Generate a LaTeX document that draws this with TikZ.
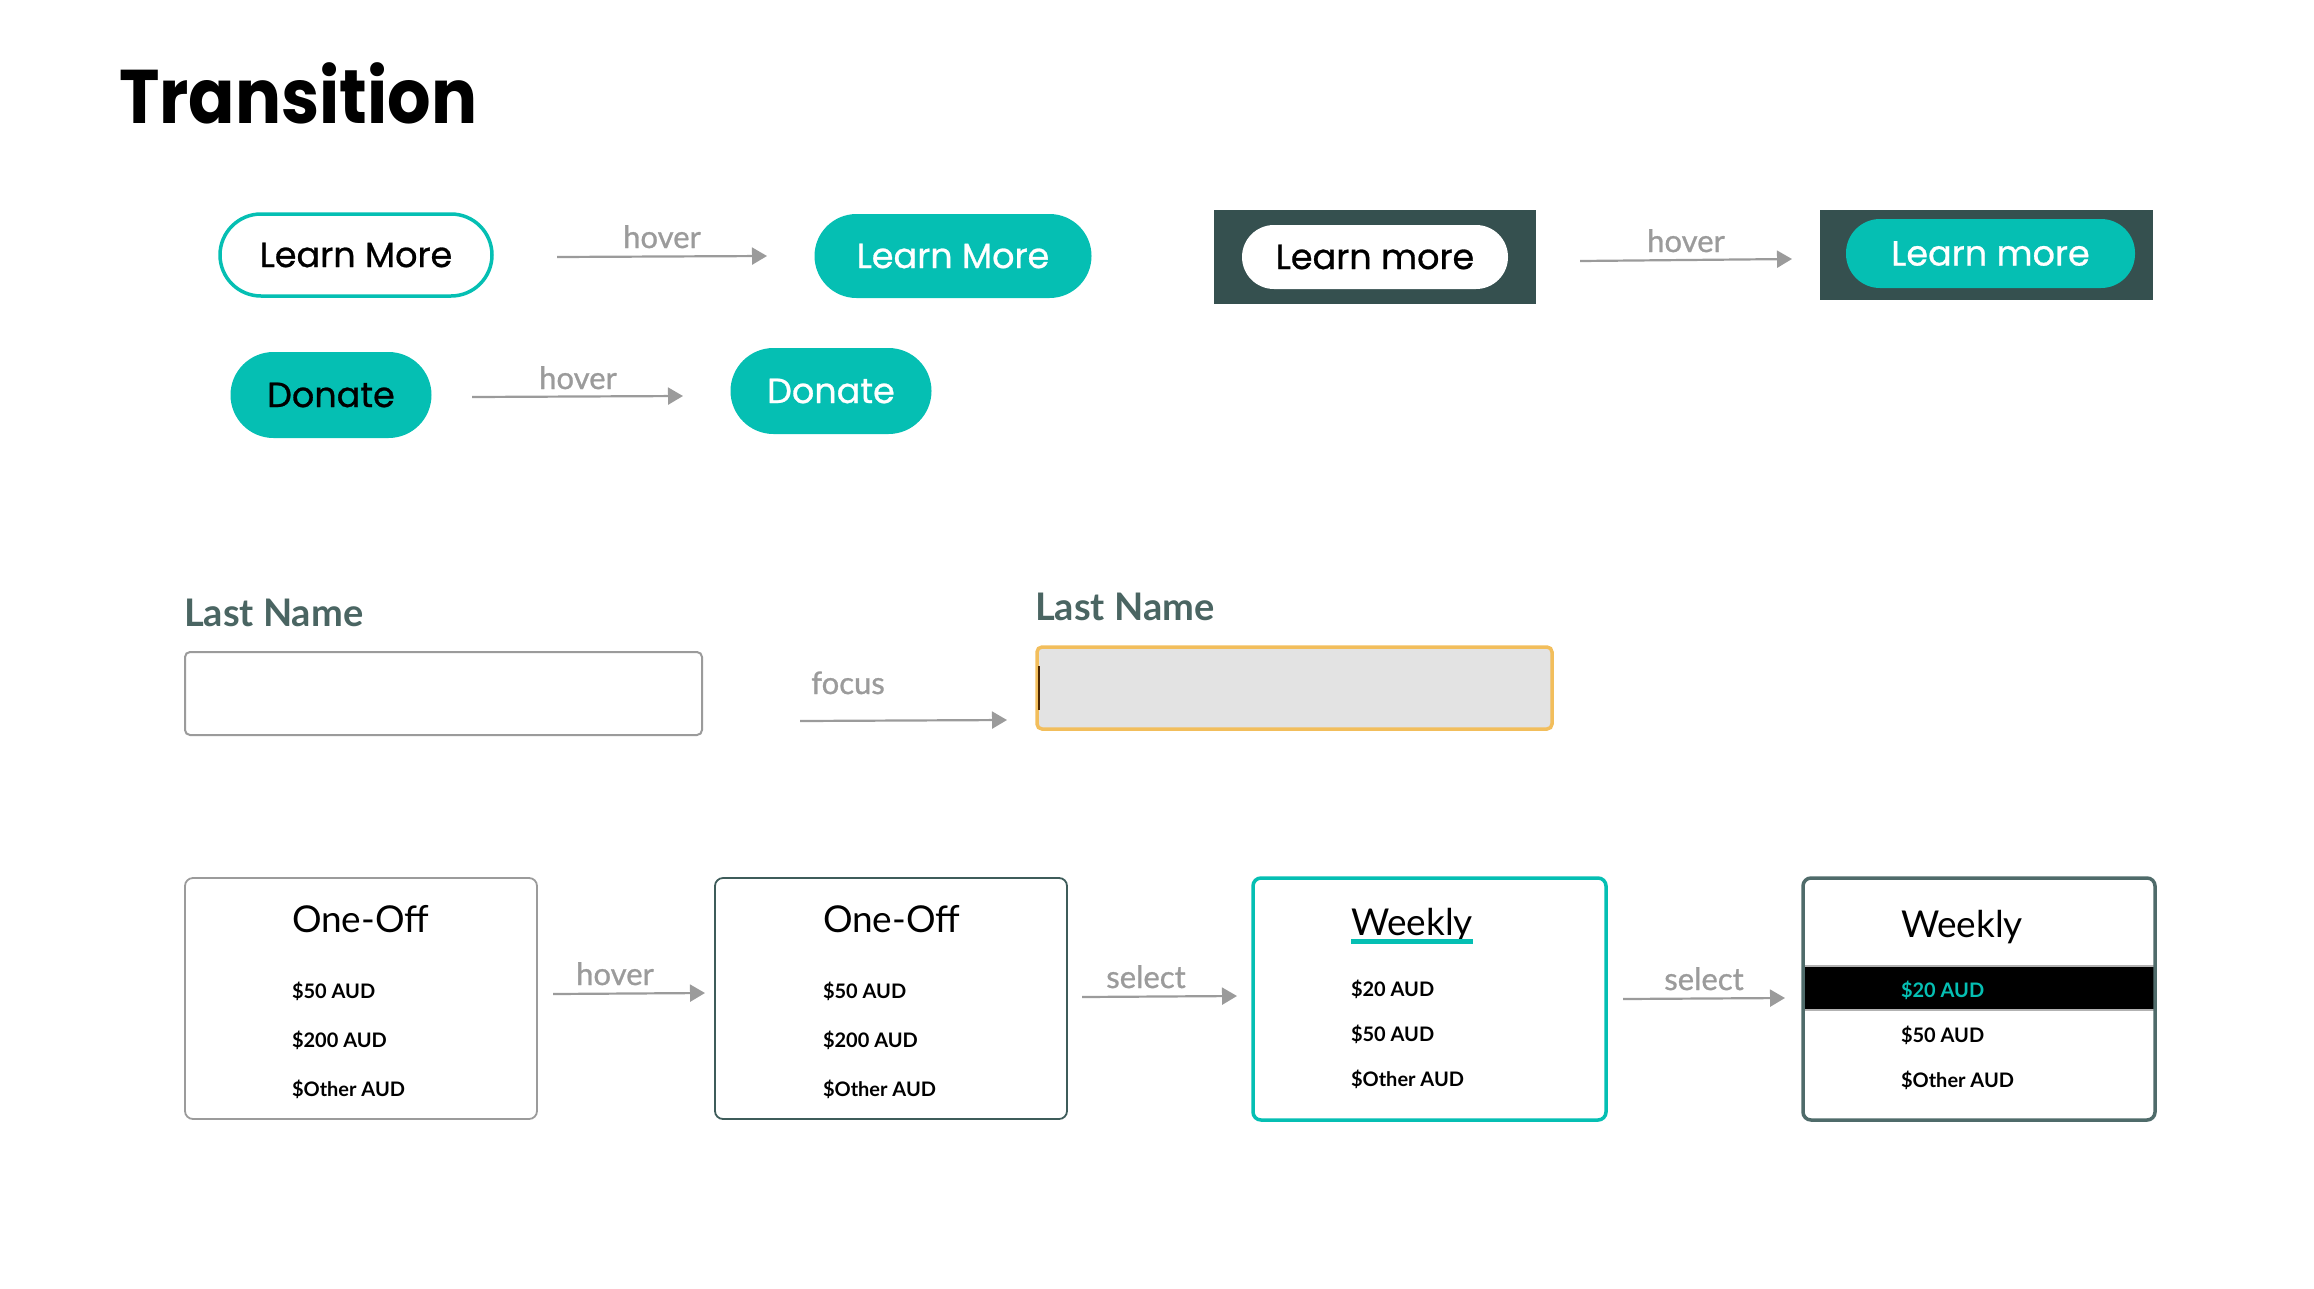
\documentclass[tikz,border=0pt]{standalone}
\usepackage{fontspec}
\setmainfont{Lato}
\newfontfamily\popfont{Poppins}[FakeBold=0.8]
\newfontfamily\titlefont{Poppins}[FakeStretch=0.9]
\newfontfamily\labfont{Lato}[FakeBold=0.9]
\usetikzlibrary{arrows.meta}
\definecolor{tealc}{HTML}{05BFB3}
\definecolor{darkbox}{HTML}{35504F}
\definecolor{grayarr}{HTML}{9B9B9B}
\definecolor{lastname}{HTML}{4A6562}
\definecolor{orangeb}{HTML}{F2BE5C}
\definecolor{inputfill}{HTML}{E3E3E3}
\definecolor{cardtwo}{HTML}{3E5C5A}
\definecolor{cardfour}{HTML}{4F6B6A}
\tikzset{
  txt/.style={inner sep=0pt, outer sep=0pt},
  btntext/.style={font=\popfont\fontsize{35}{40}\selectfont},
  btnout/.style={btntext, draw=tealc, line width=3.5pt, fill=white, text=black, rounded corners=41pt, minimum width=272pt, minimum height=82pt},
  btnfill/.style={btntext, fill=tealc, text=white, rounded corners=42pt, minimum width=277pt, minimum height=84pt},
  donate/.style={btntext, fill=tealc, rounded corners=43pt, minimum width=201pt, minimum height=86pt},
  arr/.style={draw=grayarr, line width=2.2pt, -{Triangle[length=15pt,width=17pt]}},
  lab/.style={txt, anchor=base, text=grayarr, font=\labfont\fontsize{31}{31}\selectfont},
  lname/.style={txt, anchor=base west, text=lastname, font=\bfseries\fontsize{38}{38}\selectfont},
  card/.style={rounded corners=8pt, minimum width=352pt, minimum height=241pt},
  ctitle/.style={txt, anchor=base west, font=\fontsize{37}{37}\selectfont},
  citem/.style={txt, anchor=base west, font=\bfseries\fontsize{20}{20}\selectfont},
}
\begin{document}
\begin{tikzpicture}[x=1pt,y=-1pt]
\useasboundingbox (0,0) rectangle (2314,1288);

% title
\node[txt, anchor=base west, font=\titlefont\bfseries\fontsize{76}{76}\selectfont] (title) at (119,123) {Transition};

% row 1 buttons
\node[btnout] (lm1) at (356,255) {Learn More};
\node[btnfill] (lm2) at (953,256) {Learn More};
\coordinate (a1s) at (557,257);
\coordinate (a1e) at (767,256);
\draw[arr] (a1s) -- (a1e);
\node[lab] (l1) at (662,248) {hover};

% row 2 donate
\node[donate, text=black] (d1) at (331,395) {Donate};
\node[donate, text=white] (d2) at (831,391) {Donate};
\coordinate (a2s) at (472,397);
\coordinate (a2e) at (683,396);
\draw[arr] (a2s) -- (a2e);
\node[lab] (l2) at (578,389) {hover};

% dark boxes
\node[fill=darkbox, minimum width=322pt, minimum height=94pt] (db1) at (1375,257) {};
\node[btntext, fill=white, text=black, rounded corners=32pt, minimum width=266pt, minimum height=64pt] (lm3) at (db1.center) {Learn more};
\node[fill=darkbox, minimum width=333pt, minimum height=90pt] (db2) at (1986.5,255) {};
\node[btntext, fill=tealc, text=white, rounded corners=34pt, minimum width=289pt, minimum height=69pt] (lm4) at (1990.5,253.5) {Learn more};
\coordinate (a3s) at (1580,261);
\coordinate (a3e) at (1792,259);
\draw[arr] (a3s) -- (a3e);
\node[lab] (l3) at (1686,252) {hover};

% last name inputs
\node[lname] (ln1) at (184,626) {Last Name};
\node[draw=grayarr, line width=2pt, rounded corners=5pt, minimum width=517pt, minimum height=83pt] (in1) at (443.5,693.5) {};
\node[lname] (ln2) at (1035,620) {Last Name};
\node[draw=orangeb, fill=inputfill, line width=3.5pt, rounded corners=5pt, minimum width=515pt, minimum height=82pt] (in2) at (1294.5,688) {};
\coordinate (caret1) at (1039,666);
\coordinate (caret2) at (1039,710);
\draw[draw=black!70!orange, line width=1.5pt] (caret1) -- (caret2);
\coordinate (a4s) at (800,721);
\coordinate (a4e) at (1007,720);
\draw[arr] (a4s) -- (a4e);
\node[lab] (l4) at (848,694) {focus};

% cards
\node[card, draw=grayarr, line width=1.8pt] (c1) at (361,998.5) {};
\node[ctitle] (c1t) at (292,932) {One-Off};
\node[citem] (c1a) at (292,998) {\$50 AUD};
\node[citem] (c1b) at (292,1047) {\$200 AUD};
\node[citem] (c1c) at (292,1096) {\$Other AUD};

\node[card, draw=cardtwo, line width=1.8pt] (c2) at (891,998.5) {};
\node[ctitle] (c2t) at (823,932) {One-Off};
\node[citem] (c2a) at (823,998) {\$50 AUD};
\node[citem] (c2b) at (823,1047) {\$200 AUD};
\node[citem] (c2c) at (823,1096) {\$Other AUD};

\node[card, draw=tealc, line width=3.5pt, minimum width=353pt, minimum height=242pt] (c3) at (1429.5,999) {};
\node[ctitle] (c3t) at (1351,935) {Weekly};
\fill[tealc] ([yshift=-4pt]c3t.base west) rectangle ([yshift=-9pt]c3t.base east);
\node[citem] (c3a) at (1351,996) {\$20 AUD};
\node[citem] (c3b) at (1351,1041) {\$50 AUD};
\node[citem] (c3c) at (1351,1086) {\$Other AUD};

\coordinate (bandtl) at (1802,966);
\coordinate (bandbr) at (2156,1010);
\fill[black] (bandtl) rectangle (bandbr);
\draw[black!30, line width=1.5pt] (bandtl) -- (bandtl -| bandbr);
\draw[black!30, line width=1.5pt] (bandtl |- bandbr) -- (bandbr);
\node[card, draw=cardfour, line width=3.5pt, minimum width=352pt, minimum height=242pt] (c4) at (1979,999) {};
\node[ctitle] (c4t) at (1901,937) {Weekly};
\node[citem, text=tealc] (c4a) at (1901,997) {\$20 AUD};
\node[citem] (c4b) at (1901,1042) {\$50 AUD};
\node[citem] (c4c) at (1901,1087) {\$Other AUD};

% card arrows
\coordinate (a5s) at (553,994);
\coordinate (a5e) at (705,993);
\draw[arr] (a5s) -- (a5e);
\node[lab] (l5) at (615,985) {hover};
\coordinate (a6s) at (1082,997);
\coordinate (a6e) at (1237,996);
\draw[arr] (a6s) -- (a6e);
\node[lab] (l6) at (1146,988) {select};
\coordinate (a7s) at (1623,999);
\coordinate (a7e) at (1785,998);
\draw[arr] (a7s) -- (a7e);
\node[lab] (l7) at (1704,990) {select};
\end{tikzpicture}
\end{document}
